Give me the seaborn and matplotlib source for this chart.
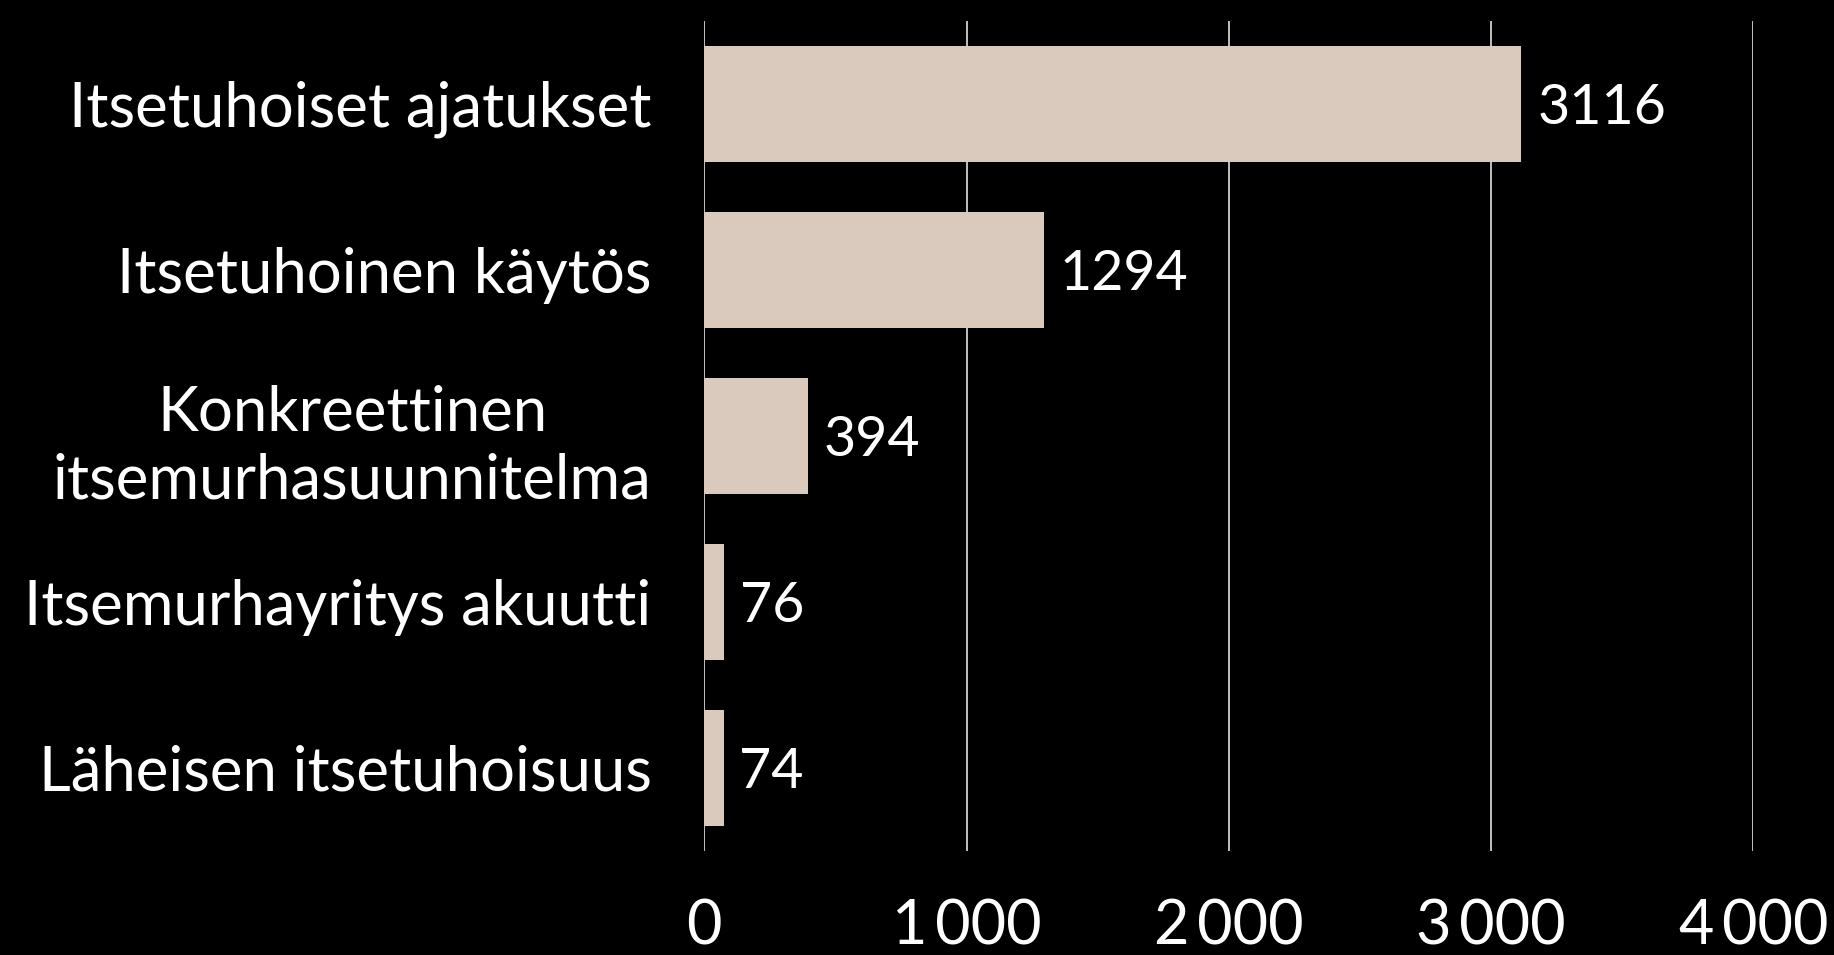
import matplotlib
matplotlib.use("Agg")
import matplotlib.pyplot as plt
import matplotlib.ticker as mticker
import seaborn as sns
import pandas as pd

categories = [
    "Itsetuhoiset ajatukset",
    "Itsetuhoinen käytös",
    "Konkreettinen\nitsemurhasuunnitelma",
    "Itsemurhayritys akuutti",
    "Läheisen itsetuhoisuus",
]
values = [3116, 1294, 394, 76, 74]
x_ticks = [0, 1000, 2000, 3000, 4000]

bg = "#000000"
bar_color = "#D9CABD"

sns.set_theme(style="white")
plt.rcParams["font.family"] = ["Lato", "DejaVu Sans"]

df = pd.DataFrame({"category": categories, "value": values})

fig = plt.figure(figsize=(18.34, 9.55), dpi=100, facecolor=bg)
ax = fig.add_axes([0.384, 0.109, 0.572, 0.869])
ax.set_facecolor(bg)

sns.barplot(data=df, y="category", x="value", color=bar_color, width=0.7,
            saturation=1, linewidth=0, ax=ax, zorder=3)

ax.set_xlim(0, 4000)
ax.set_ylim(4.5, -0.5)
ax.set_xticks(x_ticks)
ax.xaxis.set_major_formatter(mticker.FuncFormatter(
    lambda v, p: f"{int(v):,}".replace(",", "\u2009") if v >= 1000 else f"{int(v)}"))
ax.grid(axis="x", color="#d0d0d0", linewidth=1.3, zorder=0)
ax.grid(axis="y", visible=False)
for s in ax.spines.values():
    s.set_visible(False)

ax.tick_params(axis="x", colors="white", labelsize=44, length=0, pad=34)
ax.tick_params(axis="y", colors="white", labelsize=44.5, length=0, pad=38)
for lab in ax.get_xticklabels() + ax.get_yticklabels():
    lab.set_color("white")
for lab in ax.get_yticklabels():
    lab.set_multialignment("center")
    lab.set_linespacing(1.25)
ax.set_xlabel("")
ax.set_ylabel("")

for i, v in enumerate(values):
    ax.text(v + 60, i, f"{v}", color="white", fontsize=40,
            va="center_baseline", ha="left")

fig.savefig("out.png", dpi=100, facecolor=bg)
